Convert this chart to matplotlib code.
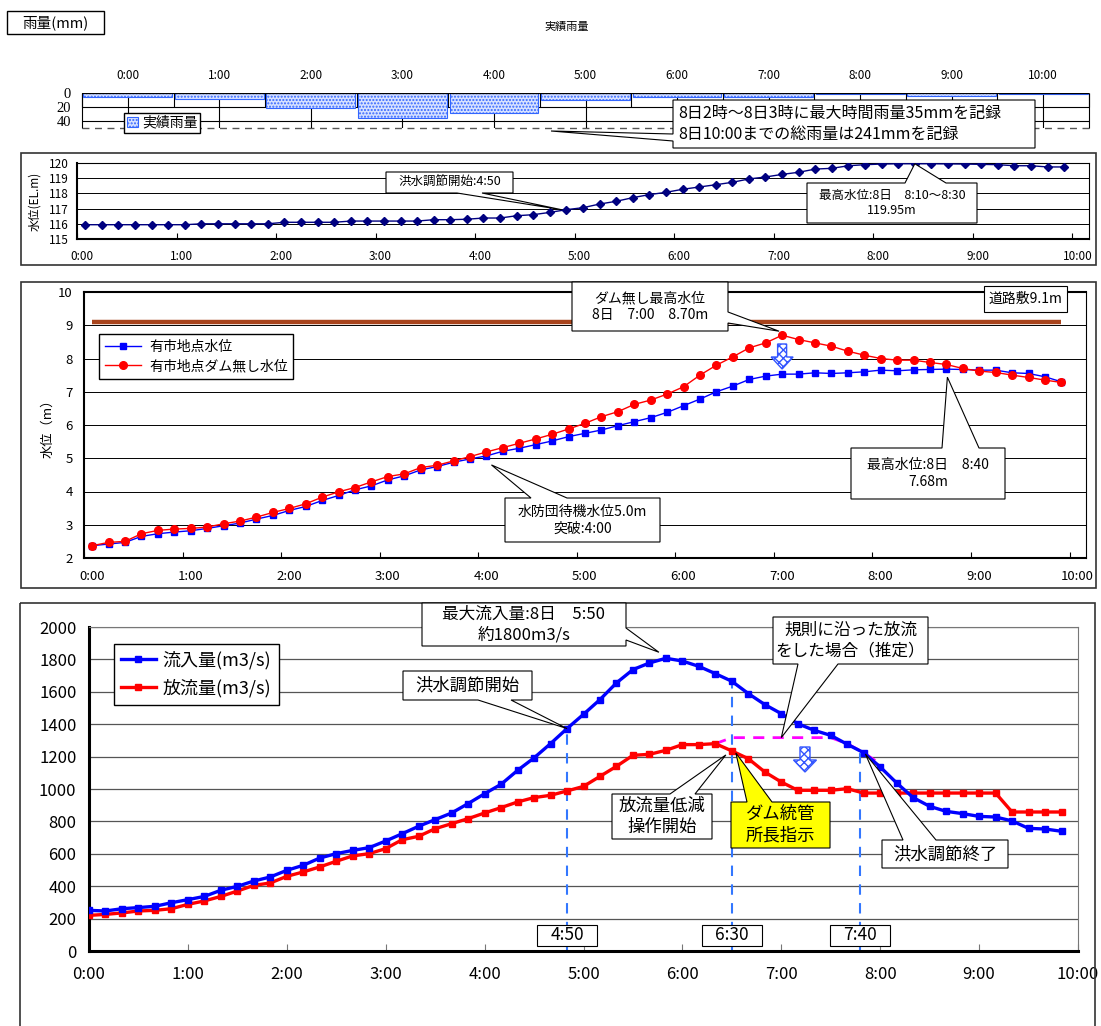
import numpy as np
import matplotlib
matplotlib.use("Agg")
import matplotlib.pyplot as plt
import matplotlib.transforms as mtransforms
from matplotlib.patches import Rectangle, Polygon, FancyArrow

plt.rcParams['font.family'] = ['Noto Sans CJK JP', 'DejaVu Sans']

W, H = 1101, 1026

"""data read off the picture"""
hour_labels = ['0:00', '1:00', '2:00', '3:00', '4:00', '5:00', '6:00', '7:00', '8:00', '9:00', '10:00']
rain_mm = [5, 9, 21, 35, 29, 10, 5, 5, 1, 4, 1]

# 10 minute steps 0:00 - 9:50
step_min = np.arange(0, 600, 10)

dam_level = [115.94, 115.94, 115.94, 115.94, 115.94, 115.94, 115.94, 116.0, 116.0, 116.0,
             116.0, 116.0, 116.1, 116.1, 116.1, 116.1, 116.18, 116.18, 116.18, 116.18,
             116.18, 116.27, 116.27, 116.3, 116.38, 116.38, 116.53, 116.6, 116.75, 116.93,
             117.06, 117.3, 117.48, 117.72, 117.92, 118.07, 118.27, 118.42, 118.57, 118.73,
             118.95, 119.08, 119.25, 119.39, 119.6, 119.65, 119.82, 119.89, 119.93, 119.95,
             119.95, 119.95, 119.94, 119.93, 119.91, 119.89, 119.82, 119.82, 119.74, 119.74]

ariichi_level = [2.37, 2.42, 2.47, 2.65, 2.73, 2.78, 2.82, 2.89, 2.97, 3.05,
                 3.17, 3.28, 3.43, 3.55, 3.73, 3.88, 4.05, 4.17, 4.35, 4.47,
                 4.65, 4.75, 4.88, 4.98, 5.07, 5.21, 5.30, 5.41, 5.52, 5.65,
                 5.75, 5.85, 5.98, 6.10, 6.22, 6.38, 6.58, 6.78, 7.00, 7.17,
                 7.37, 7.47, 7.53, 7.53, 7.57, 7.55, 7.57, 7.60, 7.65, 7.63,
                 7.66, 7.67, 7.68, 7.67, 7.65, 7.65, 7.57, 7.55, 7.45, 7.30]

ariichi_nodam = [2.37, 2.47, 2.50, 2.73, 2.83, 2.87, 2.89, 2.93, 3.03, 3.11,
                 3.23, 3.37, 3.49, 3.63, 3.83, 3.99, 4.12, 4.29, 4.45, 4.53,
                 4.72, 4.79, 4.92, 5.05, 5.19, 5.32, 5.45, 5.58, 5.72, 5.88,
                 6.05, 6.25, 6.40, 6.62, 6.75, 6.93, 7.15, 7.50, 7.80, 8.05,
                 8.32, 8.47, 8.70, 8.57, 8.47, 8.37, 8.22, 8.10, 8.00, 7.95,
                 7.95, 7.88, 7.82, 7.70, 7.62, 7.58, 7.50, 7.43, 7.35, 7.28]
road_level = 9.1

inflow = [251, 247, 261, 268, 276, 298, 317, 337, 375, 399,
          432, 457, 498, 529, 574, 601, 621, 638, 679, 724,
          770, 811, 852, 910, 971, 1029, 1115, 1192, 1280, 1373,
          1461, 1552, 1655, 1737, 1778, 1807, 1790, 1757, 1712, 1665,
          1589, 1521, 1465, 1403, 1362, 1331, 1276, 1224, 1136, 1037,
          947, 893, 862, 848, 831, 827, 803, 757, 753, 739]

outflow = [220, 226, 235, 247, 251, 261, 288, 309, 337, 370,
           405, 420, 461, 488, 519, 554, 587, 601, 632, 687,
           708, 755, 786, 817, 852, 885, 920, 947, 961, 988,
           1016, 1078, 1140, 1208, 1214, 1239, 1274, 1274, 1280, 1235,
           1187, 1105, 1043, 992, 992, 992, 1002, 975, 975, 975,
           975, 975, 975, 975, 975, 975, 858, 858, 858, 858]

rule_min = [380, 390, 400, 410, 420, 430, 440, 450, 460, 470, 480]
rule_outflow = [1280, 1317, 1317, 1317, 1317, 1317, 1317, 1317, 1280, 1224, 1155]

event_min = [290, 390, 468]
event_labels = ['4:50', '6:30', '7:40']

# level charts are category axes: points sit in the middle of each 10 min slot
t_cat = (step_min + 5) / 60.0
t_val = step_min / 60.0
rule_h = np.array(rule_min) / 60.0
event_h = np.array(event_min) / 60.0

fig = plt.figure(figsize=(W / 100, H / 100), dpi=100)


def px_rect(x0, y0, x1, y1):
    return [x0 / W, 1 - y1 / H, (x1 - x0) / W, (y1 - y0) / H]


ov = fig.add_axes([0, 0, 1, 1], zorder=10)
ov.set_xlim(0, W)
ov.set_ylim(H, 0)
ov.axis('off')


def to_px(ax, x, y, dx=0, dy=0):
    p = ov.transData.inverted().transform(ax.transData.transform((x, y)))
    return (p[0] + dx, p[1] + dy)


def callout(box, text, fs, side=None, bases=None, tip=None, fc='white', ha='center'):
    x0, y0, x1, y1 = box
    corners = [(x0, y0), (x1, y0), (x1, y1), (x0, y1)]
    order = ['top', 'right', 'bottom', 'left']
    pts = []
    for k, c in enumerate(corners):
        pts.append(c)
        if side == order[k]:
            a = np.array(c, float)
            nxt = np.array(corners[(k + 1) % 4], float)
            if side in ('top', 'bottom'):
                bp = [(b, c[1]) for b in bases]
            else:
                bp = [(c[0], b) for b in bases]
            bp.sort(key=lambda p: np.dot(np.array(p) - a, nxt - a))
            pts += [bp[0], tip, bp[1]]
    ov.add_patch(Polygon(pts, closed=True, fc=fc, ec='black', lw=0.8, zorder=5))
    tx = (x0 + x1) / 2 if ha == 'center' else x0 + 5
    ov.text(tx, (y0 + y1) / 2, text, fontsize=fs, ha=ha, va='center',
            linespacing=1.25, zorder=6)


def shift_xlabels(ax, dx_px):
    off = mtransforms.ScaledTranslation(dx_px / 100, 0, fig.dpi_scale_trans)
    for lab in ax.get_xticklabels():
        lab.set_transform(lab.get_transform() + off)


# ---------------- rain ----------------
ov.add_patch(Rectangle((7, 11), 97, 23, fc='white', ec='black', lw=1))
ov.text(55.5, 22.5, '雨量(mm)', fontsize=10.5, ha='center', va='center')
ov.text(567, 27, '実績雨量', fontsize=8, ha='center', va='center')

axR = fig.add_axes(px_rect(82, 93, 1089, 128))
axR.set_xlim(-0.5, 10.5)
axR.set_ylim(50, 0)
bars = axR.bar(range(len(rain_mm)), rain_mm, width=0.97, color='#D8E2FF', edgecolor='#3366FF',
               hatch='.....', lw=0.8, zorder=3, label='実績雨量')
for s in axR.spines.values():
    s.set_visible(False)
axR.axhline(0, color='black', lw=1.6, zorder=4)
axR.axhline(20, color='black', lw=0.8, zorder=1)
axR.axhline(40, color='black', lw=0.8, zorder=1)
axR.axhline(50, color='#555555', lw=1, ls=(0, (5, 4)), clip_on=False, zorder=1)
axR.vlines(range(len(rain_mm)), 0, 50, color='black', lw=0.8, zorder=1)
axR.vlines(np.arange(-0.5, 11, 1), 0, 20, color='black', lw=0.8, zorder=1, clip_on=False)
axR.vlines([-0.5, 10.5], 0, 50, color='black', lw=0.8, zorder=1, clip_on=False)
axR.set_yticks([0, 20, 40])
axR.set_yticklabels(['0', '20', '40'], fontfamily='Liberation Serif', fontsize=10.5)
axR.tick_params(axis='y', length=0, pad=8)
axR.xaxis.tick_top()
axR.set_xticks(range(len(hour_labels)))
axR.set_xticklabels(hour_labels, fontsize=8.5)
axR.tick_params(axis='x', length=0, pad=8)
axR.legend(handles=[bars], loc='upper left', bbox_to_anchor=(124, 113), bbox_transform=ov.transData,
           fontsize=10, frameon=True, fancybox=False, edgecolor='black', framealpha=1,
           handlelength=0.8, handleheight=0.8, handletextpad=0.3, borderpad=0.2, borderaxespad=0)

callout((673, 100, 1035, 148),
        '8日2時～8日3時に最大時間雨量35mmを記録\n8日10:00までの総雨量は241mmを記録',
        11.5, side='left', bases=(134, 141), tip=(551, 131), ha='left')

# ---------------- dam water level ----------------
ov.add_patch(Rectangle((21, 153), 1075, 112, fc='none', ec='#333333', lw=1.2))
axB = fig.add_axes(px_rect(77, 163, 1089, 239))
axB.plot(t_cat, dam_level, color='#000080', marker='D', ms=4.5, lw=1, zorder=3)
axB.set_xlim(0, 61 / 6)
axB.set_ylim(115, 120)
axB.set_yticks(range(115, 121))
axB.yaxis.grid(True, color='black', lw=0.7)
axB.set_xticks(range(len(hour_labels)))
axB.set_xticklabels(hour_labels)
axB.tick_params(axis='y', length=0, pad=6, labelsize=8.5)
axB.tick_params(axis='x', direction='in', length=4, pad=8, labelsize=8.5)
for k in ('left', 'bottom'):
    axB.spines[k].set_linewidth(1.5)
axB.set_ylabel('水位(EL.m)', fontsize=8.5)
axB.yaxis.set_label_coords(-0.035, 0.5)
shift_xlabels(axB, 5)

callout((386, 172, 513, 193), '洪水調節開始:4:50', 9, side='bottom', bases=(457, 482),
        tip=to_px(axB, t_cat[29], dam_level[29], -5, 0))
callout((807, 183, 977, 223), '最高水位:8日　8:10～8:30\n119.95m', 9, side='top', bases=(905, 946),
        tip=to_px(axB, t_cat[50], dam_level[50]))

# ---------------- Ariichi water level ----------------
ov.add_patch(Rectangle((21, 282), 1075, 306, fc='none', ec='#333333', lw=1.2))
axC = fig.add_axes(px_rect(84, 292, 1086, 558))
axC.plot([t_cat[0], t_cat[-1]], [road_level, road_level], color='#A8441C', lw=3.2,
         solid_capstyle='butt', zorder=2)
lc1, = axC.plot(t_cat, ariichi_level, color='#0000FF', marker='s', ms=5, lw=1, zorder=3,
                label='有市地点水位')
lc2, = axC.plot(t_cat, ariichi_nodam, color='#FF0000', marker='o', ms=5.5, lw=1, zorder=4,
                label='有市地点ダム無し水位')
axC.set_xlim(0, 61 / 6)
axC.set_ylim(2, 10)
axC.set_yticks(range(2, 11))
axC.yaxis.grid(True, color='black', lw=0.7)
axC.set_xticks(range(len(hour_labels)))
axC.set_xticklabels(hour_labels)
axC.tick_params(axis='y', length=0, pad=8, labelsize=9.5)
axC.tick_params(axis='x', direction='in', length=4, pad=9, labelsize=9.5)
for k in ('left', 'bottom', 'top'):
    axC.spines[k].set_linewidth(1.5)
axC.set_ylabel('水位（m）', fontsize=9.5)
axC.yaxis.set_label_coords(-0.03, 0.5)
shift_xlabels(axC, 8)
axC.legend(handles=[lc1, lc2], loc='upper left', bbox_to_anchor=(99, 334), bbox_transform=ov.transData,
           fontsize=10, frameon=True, fancybox=False, edgecolor='black', framealpha=1,
           handlelength=2.6, borderpad=0.4, labelspacing=0.4, handletextpad=0.6, borderaxespad=0)

callout((572, 282, 728, 331), 'ダム無し最高水位\n8日　7:00　8.70m', 10, side='right', bases=(312, 323),
        tip=to_px(axC, t_cat[42], ariichi_nodam[42], -3, -4))
callout((984, 286, 1067, 312), '道路敷9.1m', 10)
callout((851, 448, 1005, 499), '最高水位:8日　8:40\n7.68m', 10, side='top', bases=(942, 979),
        tip=to_px(axC, t_cat[52], ariichi_level[52], 1, 8))
callout((505, 498, 660, 542), '水防団待機水位5.0m\n突破:4:00', 10, side='top', bases=(531, 567),
        tip=to_px(axC, t_cat[24], ariichi_level[24], 5, 9))
ax_c_arrow = to_px(axC, t_cat[42], ariichi_nodam[42])
ov.add_patch(FancyArrow(ax_c_arrow[0], 344, 0, 25, width=9, head_width=22, head_length=12,
                        length_includes_head=True, fc='white', ec='#3355FF', hatch='xxxx', lw=1))

# ---------------- inflow / outflow ----------------
ov.add_patch(Rectangle((20, 603), 1075, 440, fc='none', ec='#333333', lw=1.2))
axD = fig.add_axes(px_rect(89, 627, 1078, 951))
axD.set_xlim(0, 10)
axD.set_ylim(0, 2000)
axD.vlines(event_h, 0, np.interp(event_h, t_val, inflow), colors='#3377FF',
           linestyles=(0, (5, 4)), lw=1.5, zorder=2)
axD.plot(rule_h, rule_outflow, color='#FF00FF', lw=2, ls=(0, (4, 3)), zorder=3)
ld2, = axD.plot(t_val, outflow, color='#FF0000', marker='s', ms=5, lw=2.4, zorder=4,
                label='放流量(m3/s)')
ld1, = axD.plot(t_val, inflow, color='#0000FF', marker='s', ms=5, lw=2.4, zorder=5,
                label='流入量(m3/s)')
axD.set_yticks(range(0, 2001, 200))
axD.yaxis.grid(True, color='#555555', lw=0.9)
axD.set_xticks(range(len(hour_labels)))
axD.set_xticklabels(hour_labels)
axD.tick_params(axis='y', length=0, pad=9, labelsize=12)
axD.tick_params(axis='x', direction='in', length=5, pad=11, labelsize=12, color='#777777')
for k in ('left', 'bottom'):
    axD.spines[k].set_linewidth(2.2)
for k in ('top', 'right'):
    axD.spines[k].set_color('#777777')
axD.legend(handles=[ld1, ld2], loc='upper left', bbox_to_anchor=(114, 644), bbox_transform=ov.transData,
           fontsize=13, frameon=True, fancybox=False, edgecolor='black', framealpha=1,
           handlelength=1.9, handletextpad=0.4, borderpad=0.4, labelspacing=0.5, borderaxespad=0)

for t, lab in zip(event_h, event_labels):
    cx = to_px(axD, t, 0)[0]
    ov.add_patch(Rectangle((cx - 30, 925), 60, 21, fc='white', ec='black', lw=0.8, zorder=5))
    ov.text(cx, 935.5, lab, fontsize=12.5, ha='center', va='center', zorder=6)

callout((422, 603, 626, 646), '最大流入量:8日　5:50\n約1800m3/s', 12, side='right', bases=(628, 640),
        tip=to_px(axD, t_val[35], inflow[35], -7, -6))
callout((403, 671, 532, 700), '洪水調節開始', 12.5, side='bottom', bases=(478, 511),
        tip=to_px(axD, t_val[29], inflow[29]))
callout((773, 617, 928, 664), '規則に沿った放流\nをした場合（推定）', 12, side='bottom', bases=(798, 838),
        tip=to_px(axD, rule_h[4], rule_outflow[4]))
callout((612, 794, 712, 839), '放流量低減\n操作開始', 12.5, side='top', bases=(670, 695),
        tip=to_px(axD, t_val[39], outflow[39], -6, 4))
callout((731, 802, 830, 848), 'ダム統管\n所長指示', 12.5, side='top', bases=(747, 772),
        tip=to_px(axD, t_val[39], outflow[39], 4, 2), fc='#FFFF00')
callout((882, 840, 1008, 868), '洪水調節終了', 12.5, side='top', bases=(903, 936),
        tip=to_px(axD, event_h[2], np.interp(event_h[2], t_val, inflow), 5, 3))
ov.add_patch(FancyArrow(805, 747, 0, 25, width=10, head_width=23, head_length=12,
                        length_includes_head=True, fc='white', ec='#3355FF', hatch='xxxx', lw=1))

fig.savefig('out.png', dpi=100)
